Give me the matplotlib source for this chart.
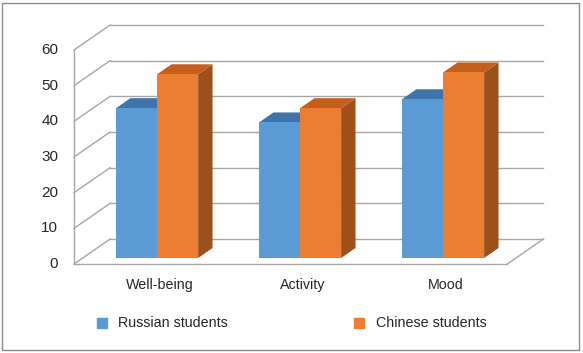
import matplotlib.pyplot as plt
from matplotlib.patches import Polygon, Rectangle
import numpy as np

plt.rcParams['font.family'] = ['Liberation Sans', 'DejaVu Sans']

categories = ['Well-being', 'Activity', 'Mood']
russian = [42, 38, 44.5]
chinese = [51.5, 42, 52]
series_names = ['Russian students', 'Chinese students']
yticks = [0, 10, 20, 30, 40, 50, 60]

# colours (front, top, side)
blue = ('#5B9BD5', '#3E74AA', '#35618F')
orange = ('#ED7D31', '#C45E1D', '#9E501B')
grid_c = '#a6a6a6'

# oblique projection: depth t in [0,1] shifts (du, dv) in data units
DU, DV = 0.252, 7.0
def off(t):
    return DU * t, DV * t

u_left, u_right = -0.52, 2.51
t_front, t_back = 0.24, 0.64
bw = 0.287

fig = plt.figure(figsize=(5.83, 3.53), dpi=100)
ax = fig.add_axes([0, 0, 1, 1])
ax.set_xlim(-1.038, 3.039)
ax.set_ylim(-24.95, 74.0)
ax.axis('off')

# back wall gridlines + left wall diagonals
bu, bv = off(1)
for v in yticks:
    ax.plot([u_left + bu, u_right + bu], [v + bv, v + bv], color=grid_c, lw=1.0, zorder=1)
    ax.plot([u_left, u_left + bu], [v, v + bv], color=grid_c, lw=1.0, zorder=1)
ax.plot([u_left, u_left], [0, yticks[-1]], color=grid_c, lw=1.0, zorder=1)
# floor
ax.plot([u_left, u_right], [0, 0], color=grid_c, lw=1.0, zorder=1)
ax.plot([u_right, u_right + bu], [0, bv], color=grid_c, lw=1.0, zorder=1)

x = np.arange(len(categories))
fu, fv = off(t_front)
du, dv = off(t_back - t_front)

def draw_bar(xl, h, cols, z):
    x0, y0 = xl + fu, fv
    ax.bar(x0, h, width=bw, bottom=y0, align='edge', color=cols[0], zorder=z)
    top = [(x0, y0 + h), (x0 + bw, y0 + h), (x0 + bw + du, y0 + h + dv), (x0 + du, y0 + h + dv)]
    side = [(x0 + bw, y0), (x0 + bw + du, y0 + dv), (x0 + bw + du, y0 + h + dv), (x0 + bw, y0 + h)]
    ax.add_patch(Polygon(side, closed=True, color=cols[2], zorder=z - 0.5, lw=0))
    ax.add_patch(Polygon(top, closed=True, color=cols[1], zorder=z - 0.5, lw=0))

for i in range(len(categories)):
    draw_bar(x[i] - bw, russian[i], blue, 3)
    draw_bar(x[i], chinese[i], orange, 5)

txt = '#262626'
for v in yticks:
    ax.text(-0.63, v, str(v), ha='right', va='center', fontsize=11, color=txt)
for i, c in enumerate(categories):
    ax.text(x[i] + fu + 0.02, -5.9, c, ha='center', va='center', fontsize=10.3, color=txt)

# legend
leg_u = [-0.328, 1.476]
leg_v = -16.6
for lu, name, cols in zip(leg_u, series_names, [blue, orange]):
    ax.scatter([lu], [leg_v], marker='s', s=62, color=cols[0], zorder=6)
    ax.text(lu + 0.113, leg_v, name, ha='left', va='center', fontsize=10.3, color=txt)

# outer border
fig.patches.append(Rectangle((2 / 583, 3 / 353), 577 / 583, 347 / 353, transform=fig.transFigure,
                             fill=False, edgecolor='#8c8c8c', lw=1.0))

fig.savefig('out.png', dpi=100)
